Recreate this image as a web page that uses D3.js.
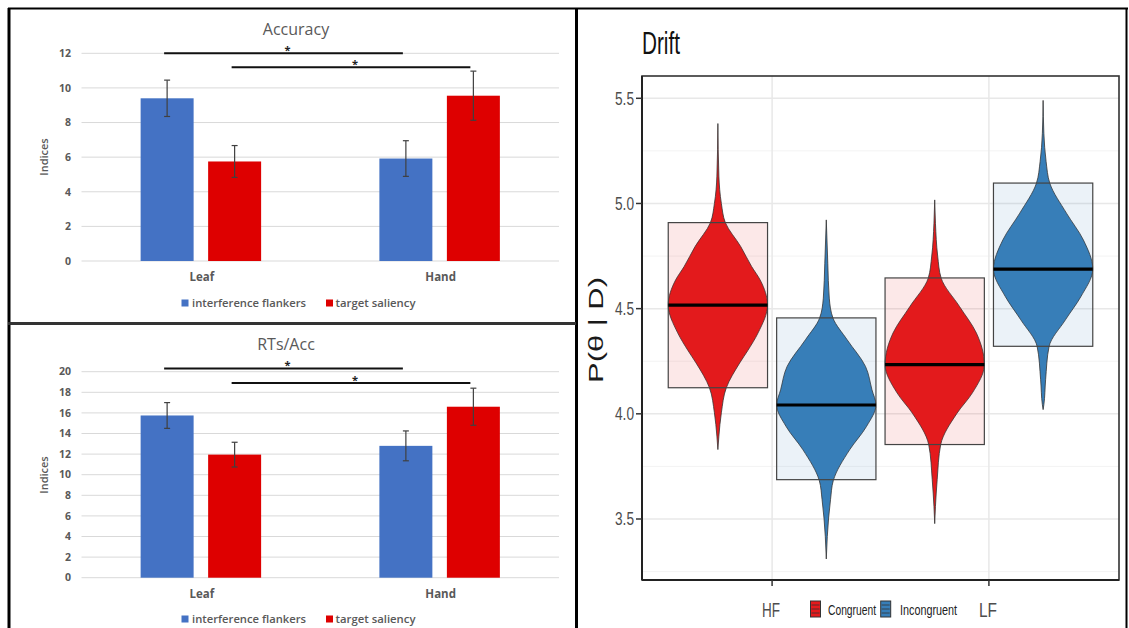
<!DOCTYPE html>
<html><head><meta charset="utf-8">
<script src="https://cdn.jsdelivr.net/npm/d3@7"></script>
<style>body{margin:0;background:#fff}svg{display:block}</style>
</head><body>
<svg id="c" width="1129" height="628"></svg>
<script>
// ---------- Bar chart data ----------
const barCategories = ["Leaf", "Hand"];
const barSeries = ["interference flankers", "target saliency"];
const accuracyMeans = [[9.4, 5.75], [5.92, 9.55]];
const accuracyErrors = [[1.05, 0.92], [1.03, 1.42]];
const accuracyTicks = [0, 2, 4, 6, 8, 10, 12];
const accuracySig = [[0, 12.0], [1, 11.2]];
const rtsMeans = [[15.75, 11.95], [12.8, 16.6]];
const rtsErrors = [[1.25, 1.2], [1.45, 1.8]];
const rtsTicks = [0, 2, 4, 6, 8, 10, 12, 14, 16, 18, 20];
const rtsSig = [[0, 20.3], [1, 18.9]];

// ---------- Violin (Drift) data ----------
const driftConditions = ["HF", "LF"];
const driftGroups = ["Congruent", "Incongruent"];
const driftCells = [["HF", "Congruent"], ["HF", "Incongruent"], ["LF", "Congruent"], ["LF", "Incongruent"]];
const driftMeans = [4.517, 4.042, 4.234, 4.688];
const driftBoxLow = [4.124, 3.687, 3.854, 4.321];
const driftBoxHigh = [4.909, 4.456, 4.646, 5.097];
const driftTicks = [3.5, 4.0, 4.5, 5.0, 5.5];
const driftMinorTicks = [3.25, 3.75, 4.25, 4.75, 5.25];
// density profiles: [theta, relative half-width]
const driftProfileHFCong = [[5.38,0],[5.13,0.02],[5.0,0.07],[4.909,0.15],[4.795,0.46],[4.70,0.68],[4.637,0.85],[4.517,1.0],[4.385,0.81],[4.30,0.6],[4.242,0.44],[4.124,0.17],[4.005,0.07],[3.894,0.02],[3.83,0]];
const driftProfileHFInc = [[4.922,0],[4.716,0.03],[4.55,0.06],[4.455,0.135],[4.352,0.42],[4.225,0.79],[4.114,0.92],[4.042,1.0],[3.94,0.81],[3.829,0.47],[3.682,0.14],[3.592,0.085],[3.417,0.02],[3.31,0]];
const driftProfileLFCong = [[5.017,0],[4.906,0.015],[4.75,0.06],[4.645,0.13],[4.51,0.5],[4.384,0.84],[4.234,1.0],[4.10,0.76],[4.003,0.45],[3.853,0.12],[3.687,0.05],[3.56,0.015],[3.478,0]];
const driftProfileLFInc = [[5.49,0],[5.334,0.015],[5.2,0.06],[5.096,0.135],[4.954,0.47],[4.827,0.81],[4.688,1.0],[4.557,0.76],[4.447,0.45],[4.32,0.12],[4.162,0.05],[4.043,0.015],[4.02,0]];
const driftProfiles = [driftProfileHFCong, driftProfileHFInc, driftProfileLFCong, driftProfileLFInc];

const svg = d3.select("#c");
const barColors = ["#4472C4", "#DE0000"];
const gray = "#595959";
const xlFont = "'Open Sans', 'Liberation Sans', sans-serif";

function barChart(o) {
  const g = svg.append("g");
  const y = d3.scaleLinear().domain([0, d3.max(o.ticks)]).range([o.y0, o.yTop]);
  const x0 = d3.scaleBand().domain(barCategories).range([81.5, 559]);
  const x1 = d3.scaleBand().domain(barSeries).range([0, x0.bandwidth()]).paddingInner(0.215).paddingOuter(0.876);
  g.selectAll(".grid").data(o.ticks).join("line")
    .attr("x1", 81.5).attr("x2", 559)
    .attr("y1", d => y(d)).attr("y2", d => y(d))
    .attr("stroke", "#d9d9d9").attr("stroke-width", 1);
  g.selectAll(".tl").data(o.ticks).join("text")
    .attr("x", 71).attr("y", d => y(d)).attr("dy", "0.36em")
    .attr("text-anchor", "end").attr("font-family", xlFont).attr("font-size", 10.5)
    .attr("font-weight", 700).attr("fill", gray).text(d => d);
  barCategories.forEach((c, ci) => {
    barSeries.forEach((s, si) => {
      const v = o.means[ci][si], e = o.errors[ci][si];
      const bx = x0(c) + x1(s), cx = bx + x1.bandwidth() / 2;
      g.append("rect").attr("x", bx).attr("width", x1.bandwidth())
        .attr("y", y(v)).attr("height", y(0) - y(v)).attr("fill", barColors[si]);
      const eg = g.append("g").attr("stroke", "#404040").attr("stroke-width", 1.2);
      eg.append("line").attr("x1", cx).attr("x2", cx).attr("y1", y(v + e)).attr("y2", y(v - e));
      eg.append("line").attr("x1", cx - 3).attr("x2", cx + 3).attr("y1", y(v + e)).attr("y2", y(v + e));
      eg.append("line").attr("x1", cx - 3).attr("x2", cx + 3).attr("y1", y(v - e)).attr("y2", y(v - e));
    });
  });
  o.sig.forEach(([si, v]) => {
    const s = barSeries[si];
    const xa = x0(barCategories[0]) + x1(s) + x1.bandwidth() / 2 - 3;
    const xb = x0(barCategories[1]) + x1(s) + x1.bandwidth() / 2 - 3;
    g.append("line").attr("x1", xa).attr("x2", xb).attr("y1", y(v)).attr("y2", y(v))
      .attr("stroke", "#111").attr("stroke-width", 2);
    g.append("text").attr("x", (xa + xb) / 2 + 4).attr("y", y(v) + 0.5)
      .attr("text-anchor", "middle").attr("font-family", xlFont).attr("font-size", 11)
      .attr("font-weight", 700).attr("fill", "#222").text("*");
  });
  g.selectAll(".cat").data(barCategories).join("text")
    .attr("x", d => x0(d) + x0.bandwidth() / 2 + 1).attr("y", o.catY)
    .attr("text-anchor", "middle").attr("font-family", xlFont).attr("font-size", 11.5)
    .attr("font-weight", 700).attr("fill", gray).text(d => d);
  g.append("text").attr("x", o.titleX).attr("y", o.titleY).attr("text-anchor", "middle")
    .attr("font-family", xlFont).attr("font-size", 16).attr("fill", gray).text(o.title);
  g.append("text").attr("transform", `translate(48,${o.yTitleY}) rotate(-90)`)
    .attr("text-anchor", "middle").attr("font-family", xlFont).attr("font-size", 11)
    .attr("font-weight", 600).attr("fill", gray).text("Indices");
  const lx = [181.5, 326], tx = [192, 335.5], tl = [114, 80];
  barSeries.forEach((s, i) => {
    g.append("rect").attr("x", lx[i]).attr("y", o.legendY - 4).attr("width", 7).attr("height", 7).attr("fill", barColors[i]);
    g.append("text").attr("x", tx[i]).attr("y", o.legendY).attr("dy", "0.35em")
      .attr("font-family", xlFont).attr("font-size", 11).attr("font-weight", 600)
      .attr("fill", gray).attr("textLength", tl[i]).attr("lengthAdjust", "spacingAndGlyphs").text(s);
  });
}

barChart({ means: accuracyMeans, errors: accuracyErrors, ticks: accuracyTicks, sig: accuracySig,
  y0: 261, yTop: 53.3, title: "Accuracy", titleX: 296, titleY: 35, catY: 281, legendY: 303.5, yTitleY: 157 });
barChart({ means: rtsMeans, errors: rtsErrors, ticks: rtsTicks, sig: rtsSig,
  y0: 577.7, yTop: 371.7, title: "RTs/Acc", titleX: 286, titleY: 350, catY: 598, legendY: 619.5, yTitleY: 475 });

// ---------- Drift violin panel ----------
const dg = svg.append("g");
const L = 642, R = 1119, T = 76, B = 580;
const ys = d3.scaleLinear().domain([3.21, 5.606]).range([B, T]);
const xs = d3.scalePoint().domain(driftConditions).range([L, R]).padding(0.6);
const step = xs.step();
const dodge = d3.scalePoint().domain(driftGroups).range([-0.25 * step, 0.25 * step]);
const halfW = 0.229 * step;
const driftFill = { Congruent: "#E41A1C", Incongruent: "#377EB8" };
const rfont = "'Liberation Sans', Arial, sans-serif";

dg.selectAll(".mg").data(driftMinorTicks).join("line")
  .attr("x1", L).attr("x2", R).attr("y1", d => ys(d)).attr("y2", d => ys(d))
  .attr("stroke", "#f3f3f3").attr("stroke-width", 1);
dg.selectAll(".Mg").data(driftTicks).join("line")
  .attr("x1", L).attr("x2", R).attr("y1", d => ys(d)).attr("y2", d => ys(d))
  .attr("stroke", "#e8e8e8").attr("stroke-width", 1.5);
dg.selectAll(".vg").data(driftConditions).join("line")
  .attr("x1", d => xs(d)).attr("x2", d => xs(d)).attr("y1", T).attr("y2", B)
  .attr("stroke", "#e8e8e8").attr("stroke-width", 1.5);

const area = d3.area().curve(d3.curveMonotoneY);
driftCells.forEach(([c, gname], i) => {
  const cx = xs(c) + dodge(gname);
  area.y(d => ys(d[0])).x0(d => cx - d[1] * halfW).x1(d => cx + d[1] * halfW);
  dg.append("path").attr("d", area(driftProfiles[i])).attr("fill", driftFill[gname])
    .attr("stroke", "#333").attr("stroke-width", 0.8);
});
driftCells.forEach(([c, gname], i) => {
  const cx = xs(c) + dodge(gname);
  dg.append("rect").attr("x", cx - halfW).attr("width", 2 * halfW)
    .attr("y", ys(driftBoxHigh[i])).attr("height", ys(driftBoxLow[i]) - ys(driftBoxHigh[i]))
    .attr("fill", driftFill[gname]).attr("fill-opacity", 0.1)
    .attr("stroke", "#444").attr("stroke-width", 1.2);
  dg.append("line").attr("x1", cx - halfW).attr("x2", cx + halfW)
    .attr("y1", ys(driftMeans[i])).attr("y2", ys(driftMeans[i]))
    .attr("stroke", "#000").attr("stroke-width", 3.2);
});
dg.append("rect").attr("x", L).attr("y", T).attr("width", R - L).attr("height", B - T)
  .attr("fill", "none").attr("stroke", "#333").attr("stroke-width", 1.6);
dg.append("line").attr("x1", L).attr("x2", L).attr("y1", T).attr("y2", B).attr("stroke", "#222").attr("stroke-width", 2);
dg.append("line").attr("x1", L).attr("x2", R).attr("y1", B).attr("y2", B).attr("stroke", "#222").attr("stroke-width", 2.2);
dg.selectAll(".yt").data(driftTicks).join("line")
  .attr("x1", 636).attr("x2", L).attr("y1", d => ys(d)).attr("y2", d => ys(d))
  .attr("stroke", "#333").attr("stroke-width", 1.5);
dg.selectAll(".ytl").data(driftTicks).join("text")
  .attr("x", 634).attr("y", d => ys(d)).attr("dy", "0.36em").attr("text-anchor", "end")
  .attr("font-family", rfont).attr("font-size", 18).attr("fill", "#4d4d4d")
  .attr("textLength", 19).attr("lengthAdjust", "spacingAndGlyphs").text(d => d3.format(".1f")(d));
dg.selectAll(".xt").data(driftConditions).join("line")
  .attr("x1", d => xs(d)).attr("x2", d => xs(d)).attr("y1", B).attr("y2", B + 6)
  .attr("stroke", "#333").attr("stroke-width", 1.5);
dg.selectAll(".xtl").data(driftConditions).join("text")
  .attr("x", d => xs(d) - 1).attr("y", 617).attr("text-anchor", "middle")
  .attr("font-family", rfont).attr("font-size", 20).attr("fill", "#4d4d4d")
  .attr("textLength", 18).attr("lengthAdjust", "spacingAndGlyphs").text(d => d);
const legKeyX = [810.5, 880.7], legTextX = [828, 900], legTextLen = [48, 57];
driftGroups.forEach((gname, i) => {
  const kg = dg.append("g");
  kg.append("rect").attr("x", legKeyX[i]).attr("y", 601).attr("width", 10).attr("height", 16)
    .attr("fill", driftFill[gname]).attr("stroke", "#333").attr("stroke-width", 1);
  [605, 609, 613].forEach(yy => kg.append("line").attr("x1", legKeyX[i] + 1).attr("x2", legKeyX[i] + 9)
    .attr("y1", yy).attr("y2", yy).attr("stroke", "#333").attr("stroke-width", 0.8));
  dg.append("text").attr("x", legTextX[i]).attr("y", 614.5)
    .attr("font-family", rfont).attr("font-size", 15.5).attr("fill", "#222")
    .attr("textLength", legTextLen[i]).attr("lengthAdjust", "spacingAndGlyphs").text(gname);
});
dg.append("text").attr("x", 642).attr("y", 54).attr("font-family", rfont).attr("font-size", 32)
  .attr("fill", "#111").attr("textLength", 38).attr("lengthAdjust", "spacingAndGlyphs").text("Drift");
dg.append("text").attr("transform", "translate(603,330) rotate(-90)").attr("text-anchor", "middle")
  .attr("font-family", rfont).attr("font-size", 20).attr("fill", "#1a1a1a")
  .attr("textLength", 106).attr("lengthAdjust", "spacingAndGlyphs").text("P(θ | D)");

// ---------- frame ----------
const fr = svg.append("g").attr("stroke", "#000");
fr.append("line").attr("x1", 8).attr("x2", 1128).attr("y1", 8.5).attr("y2", 8.5).attr("stroke-width", 2.2);
fr.append("line").attr("x1", 9).attr("x2", 9).attr("y1", 8).attr("y2", 628).attr("stroke-width", 3);
fr.append("line").attr("x1", 576.5).attr("x2", 576.5).attr("y1", 8).attr("y2", 628).attr("stroke-width", 3);
fr.append("line").attr("x1", 8).attr("x2", 576).attr("y1", 323.5).attr("y2", 323.5).attr("stroke-width", 3).attr("stroke", "#333");
fr.append("line").attr("x1", 1126.5).attr("x2", 1126.5).attr("y1", 8).attr("y2", 628).attr("stroke-width", 2);
</script>
</body></html>
